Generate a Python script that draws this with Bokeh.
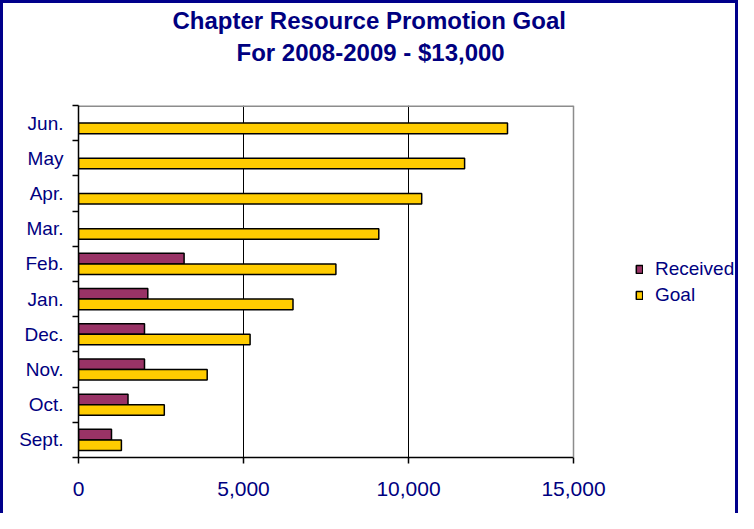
import numpy as np
from bokeh.plotting import figure
from bokeh.models import (ColumnDataSource, Range1d, FixedTicker, NumeralTickFormatter,
                          Legend, LegendItem, Title, Span)
from bokeh.transform import dodge
from bokeh.embed import file_html
from bokeh.resources import INLINE

# ---- data ----
months = ["Sept.", "Oct.", "Nov.", "Dec.", "Jan.", "Feb.", "Mar.", "Apr.", "May", "Jun."]
received = [1000, 1500, 2000, 2000, 2100, 3200, None, None, None, None]
goal = [1300, 2600, 3900, 5200, 6500, 7800, 9100, 10400, 11700, 13000]
x_ticks = [0, 5000, 10000, 15000]
title_lines = ["Chapter Resource Promotion Goal", "For 2008-2009 - $13,000"]
series_names = ["Received", "Goal"]
series_colors = ["#993366", "#FFCC00"]

NAVY = "#000080"
FONT = "Liberation Sans"
GRAY = "#8c8c8c"

pos = np.arange(len(months)) + 0.5
src = ColumnDataSource(dict(
    month=months,
    pos=pos,
    received=[np.nan if v is None else v for v in received],
    goal=goal,
))

# the frame runs on to the right so the legend can sit inside it;
# the visible plot area ends at the last x tick (15,000)
x_view_end = x_ticks[-1] * 4 / 3

p = figure(width=738, height=513, output_backend="svg", toolbar_location=None,
           title=None,
           x_range=Range1d(x_ticks[0], x_view_end), y_range=Range1d(0, len(months)),
           min_border_left=75, min_border_right=3, min_border_top=102,
           min_border_bottom=59)
p.styles = {"border-top": "3px solid #00008B", "border-left": "3px solid #00008B",
            "border-right": "3px solid #00008B"}

r_rec = p.hbar(y=dodge("pos", 0.15), left=0, right="received", height=0.3, source=src,
               fill_color=series_colors[0], line_color="black", line_width=1.5)
r_goal = p.hbar(y=dodge("pos", -0.15), left=0, right="goal", height=0.3, source=src,
                fill_color=series_colors[1], line_color="black", line_width=1.5)

# plot-area border: grey top and right edge
p.outline_line_color = None
p.background_fill_color = "white"
p.border_fill_color = "white"
p.segment(x0=[x_ticks[0]], x1=[x_ticks[-1]], y0=[len(months)], y1=[len(months)],
          line_color=GRAY, line_width=3)
p.add_layout(Span(location=x_ticks[-1], dimension="height", line_color=GRAY,
                  line_width=1.5))

# grid
p.ygrid.visible = False
p.xgrid.ticker = FixedTicker(ticks=x_ticks[1:-1])
p.xgrid.grid_line_color = "black"
p.xgrid.grid_line_width = 1

# x axis
xa = p.xaxis[0]
xa.bounds = (x_ticks[0], x_ticks[-1])
xa.ticker = FixedTicker(ticks=x_ticks)
xa.formatter = NumeralTickFormatter(format="0,0")
xa.axis_line_color = "black"
xa.axis_line_width = 1.5
xa.major_tick_line_color = "black"
xa.major_tick_line_width = 1.5
xa.major_tick_out = 6
xa.major_tick_in = 0
xa.minor_tick_line_color = None
xa.major_label_standoff = 18
xa.major_label_text_font = FONT
xa.major_label_text_font_size = "21px"
xa.major_label_text_color = NAVY

# y axis
ya = p.yaxis[0]
ya.ticker = FixedTicker(ticks=list(pos), minor_ticks=list(range(len(months) + 1)))
ya.major_label_overrides = {float(v): m for v, m in zip(pos, months)}
ya.axis_line_color = "black"
ya.axis_line_width = 1.5
ya.major_tick_line_color = None
ya.major_tick_out = 0
ya.major_tick_in = 0
ya.minor_tick_line_color = "black"
ya.minor_tick_line_width = 1.5
ya.minor_tick_out = 6
ya.minor_tick_in = 0
ya.major_label_standoff = 9
ya.major_label_text_font = FONT
ya.major_label_text_font_size = "19px"
ya.major_label_text_color = NAVY

# titles (spacer closest to frame, then line 2, then line 1)
spacer = Title(text=" ", text_font_size="1px", standoff=34)
t2 = Title(text=title_lines[1], align="left", offset=158, standoff=6,
           text_font=FONT, text_font_size="24px", text_font_style="bold", text_color=NAVY)
t1 = Title(text=title_lines[0], align="left", offset=94, standoff=0,
           text_font=FONT, text_font_size="24px", text_font_style="bold", text_color=NAVY)
p.add_layout(spacer, "above")
p.add_layout(t2, "above")
p.add_layout(t1, "above")

# legend
legend = Legend(items=[LegendItem(label=series_names[0], renderers=[r_rec]),
                       LegendItem(label=series_names[1], renderers=[r_goal])],
                location=(557, 151), orientation="vertical",
                padding=0, margin=0, spacing=4, border_line_color=None,
                background_fill_alpha=0,
                glyph_width=8, glyph_height=10, label_standoff=12, label_height=22,
                label_text_font=FONT, label_text_font_size="19px", label_text_color=NAVY)
p.add_layout(legend, "center")

open("out.html", "w").write(file_html(p, INLINE))
